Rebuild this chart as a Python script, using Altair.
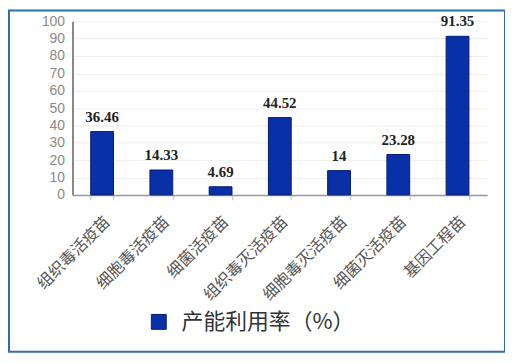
import altair as alt
import pandas as pd

categories = ["组织毒活疫苗", "细胞毒活疫苗", "细菌活疫苗", "组织毒灭活疫苗",
              "细胞毒灭活疫苗", "细菌灭活疫苗", "基因工程苗"]
values = [36.46, 14.33, 4.69, 44.52, 14, 23.28, 91.35]
series_name = "产能利用率（%）"
y_ticks = [0, 10, 20, 30, 40, 50, 60, 70, 80, 90, 100]

df = pd.DataFrame({
    "cat": categories,
    "val": values,
    "label": [f"{v:g}" for v in values],
    "series": [series_name] * len(values),
})

x_enc = alt.X("cat:N", sort=categories, title=None,
              scale=alt.Scale(paddingInner=0.615, paddingOuter=0.3075),
              axis=alt.Axis(labelAngle=-45, labelAlign="right", labelBaseline="middle",
                            labelFont="Noto Sans CJK SC", labelFontSize=16, labelColor="#555555",
                            labelPadding=19, labelOffset=5,
                            tickBand="extent", tickSize=5, tickColor="#bbbbbb",
                            domainColor="#999999", domainWidth=1.5, grid=False,
                            labelOverlap=False))
y_enc = alt.Y("val:Q", title=None, scale=alt.Scale(domain=[0, 100], nice=False),
              axis=alt.Axis(values=y_ticks, tickCount=len(y_ticks) + 1,
                            labelFont="Liberation Sans",
                            labelFontSize=14, labelColor="#8a8a8a", labelPadding=8,
                            ticks=False, labelOverlap=False,
                            domainColor="#888888", domainWidth=2,
                            grid=True, gridColor="#eeeeee", gridWidth=1))

bars = alt.Chart(df).mark_bar(stroke="#001c78", strokeWidth=1).encode(
    x=x_enc, y=y_enc,
    color=alt.Color("series:N", title=None,
                    scale=alt.Scale(range=["#0a30a8"]),
                    legend=alt.Legend(orient="none", legendX=76, legendY=292, padding=0,
                                      symbolType="square", symbolSize=225,
                                      symbolStrokeColor="#001c78", symbolStrokeWidth=1,
                                      labelFont="Noto Sans CJK SC", labelFontSize=22,
                                      labelColor="#333333", labelOffset=12, labelLimit=300)),
)

text = alt.Chart(df).mark_text(font="Liberation Serif", fontWeight="bold", fontSize=15,
                               color="#222222", dy=-10, baseline="alphabetic").encode(
    x=x_enc, y=y_enc, text="label:N")

frame = alt.Chart(pd.DataFrame({"a": [0]})).mark_rect(
    fillOpacity=0, stroke="#2f6cb0", strokeWidth=2).encode(
    x=alt.value(-64), x2=alt.value(436), y=alt.value(-11), y2=alt.value(333))

chart = alt.layer(bars, text, frame).properties(
    width=418, height=175,
    autosize=alt.AutoSizeParams(type="none"),
    padding={"left": 65, "top": 12, "right": 18, "bottom": 162},
).configure_view(stroke=None)

chart.save("out.html", embed_options={"renderer": "svg", "actions": False})
